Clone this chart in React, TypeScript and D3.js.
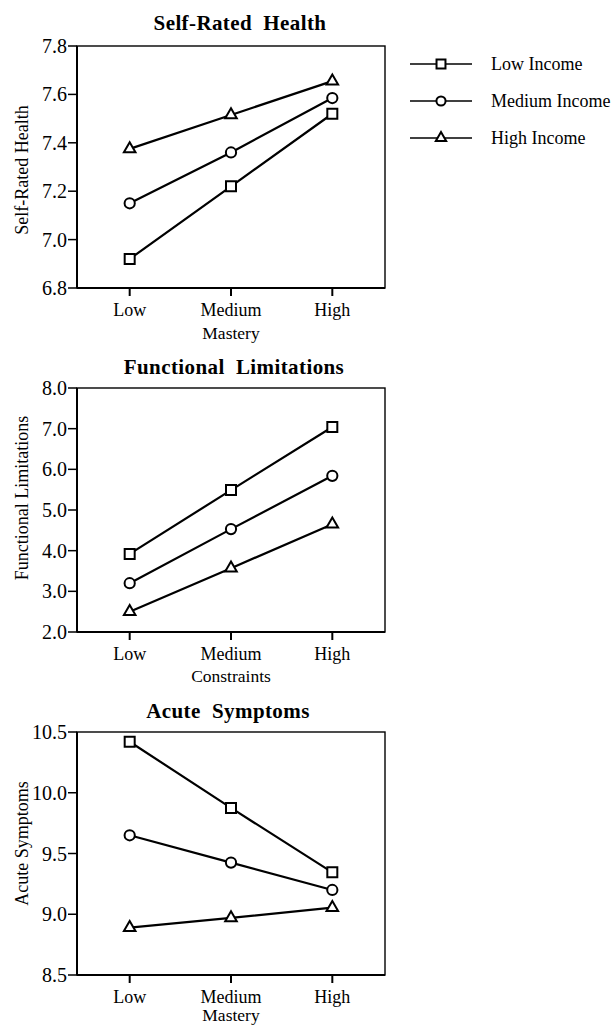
import React from "react";
import * as d3 from "d3";

// ---- Data ----
const xCategories = ["Low", "Medium", "High"];
const seriesNames = ["Low Income", "Medium Income", "High Income"];
const seriesSymbols = ["square", "circle", "triangle"];

const healthTitle = "Self-Rated  Health";
const healthYLabel = "Self-Rated Health";
const healthXLabel = "Mastery";
const healthTicks = [6.8, 7.0, 7.2, 7.4, 7.6, 7.8];
const healthLowIncome = [6.92, 7.22, 7.52];
const healthMediumIncome = [7.15, 7.36, 7.585];
const healthHighIncome = [7.375, 7.515, 7.655];

const limitTitle = "Functional  Limitations";
const limitYLabel = "Functional Limitations";
const limitXLabel = "Constraints";
const limitTicks = [2.0, 3.0, 4.0, 5.0, 6.0, 7.0, 8.0];
const limitLowIncome = [3.92, 5.49, 7.04];
const limitMediumIncome = [3.2, 4.53, 5.84];
const limitHighIncome = [2.5, 3.57, 4.65];

const acuteTitle = "Acute  Symptoms";
const acuteYLabel = "Acute Symptoms";
const acuteXLabel = "Mastery";
const acuteTicks = [8.5, 9.0, 9.5, 10.0, 10.5];
const acuteLowIncome = [10.42, 9.875, 9.345];
const acuteMediumIncome = [9.65, 9.425, 9.2];
const acuteHighIncome = [8.89, 8.97, 9.055];

// ---- Layout ----
const FONT = "'Liberation Serif', 'Times New Roman', serif";
const PLOT_LEFT = 77;
const PLOT_RIGHT = 385;

const panels = [
  {
    title: healthTitle, yLabel: healthYLabel, xLabel: healthXLabel,
    ticks: healthTicks, series: [healthLowIncome, healthMediumIncome, healthHighIncome],
    top: 46, bottom: 288, titleX: 240, titleY: 30, yLabelDy: 3, xLabelDy: 51,
  },
  {
    title: limitTitle, yLabel: limitYLabel, xLabel: limitXLabel,
    ticks: limitTicks, series: [limitLowIncome, limitMediumIncome, limitHighIncome],
    top: 388, bottom: 632, titleX: 234, titleY: 374, yLabelDy: -12, xLabelDy: 50,
  },
  {
    title: acuteTitle, yLabel: acuteYLabel, xLabel: acuteXLabel,
    ticks: acuteTicks, series: [acuteLowIncome, acuteMediumIncome, acuteHighIncome],
    top: 732, bottom: 975, titleX: 228, titleY: 718, yLabelDy: -10, xLabelDy: 46,
  },
];

const symbolTypes: Record<string, any> = {
  square: d3.symbolSquare,
  circle: d3.symbolCircle,
  triangle: d3.symbolTriangle,
};
const symbolSizes: Record<string, number> = { square: 100, circle: 82, triangle: 58 };

function symbolPath(kind: string, scale = 1) {
  return d3.symbol().type(symbolTypes[kind]).size(symbolSizes[kind] * scale)()!;
}

function Panel({ p }: { p: (typeof panels)[number] }) {
  const x = d3.scalePoint<string>().domain(xCategories).range([PLOT_LEFT, PLOT_RIGHT]).padding(0.52);
  const y = d3.scaleLinear().domain([p.ticks[0], p.ticks[p.ticks.length - 1]]).range([p.bottom, p.top]);
  const fmt = d3.format(".1f");
  const line = d3
    .line<number>()
    .x((_, i) => x(xCategories[i])!)
    .y((v) => y(v));
  const midY = (p.top + p.bottom) / 2 + p.yLabelDy;
  return (
    <g>
      <text x={p.titleX} y={p.titleY} textAnchor="middle" fontFamily={FONT} fontWeight="bold" fontSize={21} letterSpacing={0.4} style={{ whiteSpace: "pre" }}>
        {p.title}
      </text>
      <rect x={PLOT_LEFT} y={p.top} width={PLOT_RIGHT - PLOT_LEFT} height={p.bottom - p.top} fill="none" stroke="#000" strokeWidth={1.4} />
      <line x1={PLOT_LEFT} x2={PLOT_LEFT} y1={p.top} y2={p.bottom} stroke="#000" strokeWidth={2} />
      <line x1={PLOT_LEFT} x2={PLOT_RIGHT} y1={p.bottom} y2={p.bottom} stroke="#000" strokeWidth={2} />
      {p.ticks.map((t) => (
        <g key={t}>
          <line x1={PLOT_LEFT - 9} x2={PLOT_LEFT} y1={y(t)} y2={y(t)} stroke="#000" strokeWidth={1.5} />
          <text x={PLOT_LEFT - 10} y={y(t)} dy="0.35em" textAnchor="end" fontFamily={FONT} fontSize={20}>
            {fmt(t)}
          </text>
        </g>
      ))}
      {xCategories.map((c) => (
        <g key={c}>
          <line x1={x(c)} x2={x(c)} y1={p.bottom} y2={p.bottom + 8} stroke="#000" strokeWidth={2} />
          <text x={x(c)} y={p.bottom + 28} textAnchor="middle" fontFamily={FONT} fontSize={18}>
            {c}
          </text>
        </g>
      ))}
      <text x={(x("Medium") as number)} y={p.bottom + p.xLabelDy} textAnchor="middle" fontFamily={FONT} fontSize={17.5}>
        {p.xLabel}
      </text>
      <text transform={`translate(28,${midY}) rotate(-90)`} textAnchor="middle" fontFamily={FONT} fontSize={18}>
        {p.yLabel}
      </text>
      {p.series.map((vals, si) => (
        <g key={si}>
          <path d={line(vals)!} fill="none" stroke="#000" strokeWidth={2.2} />
          {vals.map((v, i) => (
            <path
              key={i}
              d={symbolPath(seriesSymbols[si])}
              transform={`translate(${x(xCategories[i])},${y(v)})`}
              fill="#fff"
              stroke="#000"
              strokeWidth={2}
            />
          ))}
        </g>
      ))}
    </g>
  );
}

function Legend() {
  const rowY = d3.scalePoint<string>().domain(seriesNames).range([64, 138]);
  return (
    <g>
      {seriesNames.map((name, i) => {
        const cy = rowY(name)!;
        return (
          <g key={name}>
            <line x1={410} x2={472} y1={cy} y2={cy} stroke="#000" strokeWidth={1.5} />
            <path d={symbolPath(seriesSymbols[i], 0.8)} transform={`translate(441,${cy})`} fill="#fff" stroke="#000" strokeWidth={2} />
            <text x={491} y={cy} dy="0.33em" fontFamily={FONT} fontSize={18}>
              {name}
            </text>
          </g>
        );
      })}
    </g>
  );
}

export default function App() {
  return (
    <svg width={612} height={1026} style={{ position: "absolute", left: 0, top: 0, background: "#fff" }}>
      <rect width={612} height={1026} fill="#fff" />
      {panels.map((p, i) => (
        <Panel key={i} p={p} />
      ))}
      <Legend />
    </svg>
  );
}
